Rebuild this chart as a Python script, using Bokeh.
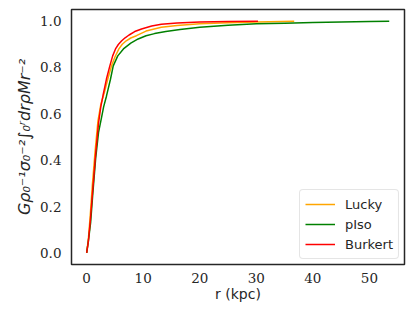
from bokeh.plotting import figure
from bokeh.models import Range1d, FixedTicker, NumeralTickFormatter, Legend, LegendItem
from bokeh.embed import file_html
from bokeh.resources import INLINE

# Data
r_lucky = [0, 0.3, 0.6, 1.0, 1.5, 2.0, 2.5, 3.1, 3.8, 4.4, 5.0, 5.7, 6.3, 7.0, 7.8, 8.8, 10.5, 13.2, 16, 20, 25, 30, 36.7]
v_lucky = [0, 0.06, 0.15, 0.29, 0.44, 0.57, 0.64, 0.69, 0.755, 0.807, 0.845, 0.88, 0.9, 0.915, 0.927, 0.937, 0.957, 0.973, 0.981, 0.988, 0.993, 0.996, 0.999]

r_piso = [0, 0.3, 0.7, 1.1, 1.6, 2.1, 2.6, 3.0, 3.5, 4.2, 4.7, 5.5, 6.5, 7.8, 9.1, 10.5, 12.0, 14, 16.5, 20, 25, 30, 35, 40, 45, 50, 53.5]
v_piso = [0, 0.05, 0.13, 0.26, 0.41, 0.52, 0.58, 0.63, 0.676, 0.748, 0.807, 0.85, 0.88, 0.905, 0.923, 0.937, 0.946, 0.955, 0.964, 0.973, 0.982, 0.988, 0.991, 0.994, 0.996, 0.998, 0.999]

r_burkert = [0, 0.3, 0.65, 1.1, 1.6, 2.1, 2.5, 2.9, 3.5, 4.1, 4.6, 5.1, 5.6, 6.2, 6.8, 7.5, 8.5, 9.7, 11.5, 13.2, 16, 20, 25, 30.3]
v_burkert = [0, 0.05, 0.14, 0.28, 0.43, 0.56, 0.63, 0.68, 0.75, 0.807, 0.85, 0.88, 0.899, 0.915, 0.928, 0.94, 0.955, 0.966, 0.979, 0.986, 0.992, 0.996, 0.998, 0.999]

x_ticks = [0, 10, 20, 30, 40, 50]
y_ticks = [0.0, 0.2, 0.4, 0.6, 0.8, 1.0]

p = figure(width=407, height=311, output_backend="svg", toolbar_location=None,
           x_range=Range1d(-2.68, 56.2), y_range=Range1d(-0.05, 1.05),
           min_border_left=71, min_border_right=3, min_border_top=9, min_border_bottom=47)

p.background_fill_color = "white"
p.border_fill_color = "white"
p.outline_line_color = "#262626"
p.outline_line_width = 1.5
p.grid.visible = False

for ax in (p.xaxis[0], p.yaxis[0]):
    ax.axis_line_color = None
    ax.major_tick_line_color = None
    ax.minor_tick_line_color = None
    ax.major_label_text_font = "'DejaVu Serif', 'Liberation Serif', serif"
    ax.major_label_text_font_size = "13.5px"
    ax.major_label_text_color = "#262626"
    ax.axis_label_text_font = "DejaVu Sans"
    ax.axis_label_text_color = "#262626"

p.xaxis.ticker = FixedTicker(ticks=x_ticks)
p.yaxis.ticker = FixedTicker(ticks=y_ticks)
p.yaxis.formatter = NumeralTickFormatter(format="0.0")
p.xaxis.major_label_standoff = 2
p.yaxis.major_label_standoff = 4

p.xaxis.axis_label = "r (kpc)"
p.xaxis.axis_label_text_font_size = "14px"
p.xaxis.axis_label_text_font_style = "normal"
p.xaxis.axis_label_standoff = 0
p.yaxis.axis_label = "Gρ₀⁻¹σ₀⁻²∫₀ʳdrρMr⁻²"
p.yaxis.axis_label_text_font_size = "16px"
p.yaxis.axis_label_text_font_style = "italic"
p.yaxis.axis_label_standoff = 3

l1 = p.line(r_lucky, v_lucky, line_color="#FFA500", line_width=1.5)
l2 = p.line(r_piso, v_piso, line_color="#008000", line_width=1.5)
l3 = p.line(r_burkert, v_burkert, line_color="#FF0000", line_width=1.5)

legend = Legend(items=[LegendItem(label="Lucky", renderers=[l1]),
                       LegendItem(label="pIso", renderers=[l2]),
                       LegendItem(label="Burkert", renderers=[l3])],
                location="bottom_right")
legend.label_text_font = "DejaVu Sans"
legend.label_text_font_size = "13px"
legend.label_text_color = "#262626"
legend.glyph_width = 30
legend.glyph_height = 18
legend.label_height = 18
legend.spacing = 2
legend.padding = 5
legend.margin = 5
legend.label_standoff = 10
legend.border_line_color = "#cccccc"
legend.border_line_width = 1
legend.background_fill_alpha = 0.8
legend.border_radius = 4
p.add_layout(legend)

open("out.html", "w").write(file_html(p, INLINE))
